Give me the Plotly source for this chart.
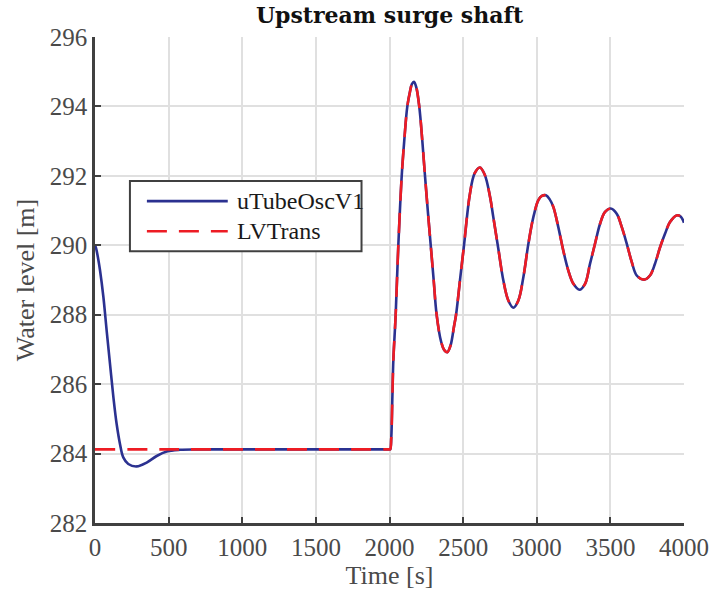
import plotly.graph_objects as go

# Initial drawdown of the uTubeOscV1 model (0-2000 s)
t_drawdown = [0, 7, 20, 34, 57, 79, 102, 125, 147, 170, 192, 226, 283, 351, 419, 487, 577, 700, 1000, 1500, 2000, 2005]
h_drawdown = [290.0, 289.92, 289.65, 289.28, 288.51, 287.55, 286.58, 285.62, 284.85, 284.27, 283.89,
              283.70, 283.63, 283.74, 283.93, 284.06, 284.11, 284.12, 284.12, 284.12, 284.12, 284.12]

# Steady level of the LVTrans model before the load change
t_steady = [0, 500, 1000, 1500, 2000, 2005]
h_steady = [284.12, 284.12, 284.12, 284.12, 284.12, 284.12]

# Surge oscillation after t = 2000 s (both models coincide)
t_surge = [2012, 2019, 2026, 2042, 2060, 2083, 2100, 2121, 2139, 2152, 2166, 2182, 2202, 2223,
           2241, 2260, 2280, 2300, 2320, 2350, 2372, 2393, 2415, 2438, 2452, 2481, 2506, 2545,
           2578, 2614, 2648, 2683, 2705, 2739, 2773, 2807, 2841, 2875, 2909, 2943, 2977, 3011,
           3035, 3062, 3087, 3113, 3146, 3180, 3214, 3249, 3290, 3328, 3362, 3396, 3430, 3464,
           3502, 3543, 3577, 3611, 3645, 3679, 3728, 3769, 3803, 3838, 3871, 3905, 3950, 3977, 4000]
h_surge = [284.45, 285.55, 286.68, 288.0, 290.0, 292.0, 293.0, 294.0, 294.42, 294.64, 294.71,
           294.55, 294.0, 293.0, 292.0, 291.0, 290.0, 289.0, 288.0, 287.23, 286.98, 286.92,
           287.12, 287.66, 288.0, 289.08, 290.0, 291.45, 292.07, 292.24, 292.02, 291.39, 290.81,
           289.9, 288.99, 288.41, 288.2, 288.41, 289.08, 290.04, 290.81, 291.3, 291.42, 291.44,
           291.33, 291.1, 290.53, 289.85, 289.28, 288.89, 288.72, 288.89, 289.47, 290.05, 290.62,
           290.96, 291.06, 290.91, 290.53, 290.05, 289.52, 289.13, 289.01, 289.13, 289.47, 289.95,
           290.33, 290.67, 290.86, 290.83, 290.65]

x_ticks = [0, 500, 1000, 1500, 2000, 2500, 3000, 3500, 4000]
y_ticks = [282, 284, 286, 288, 290, 292, 294, 296]

series_names = ["uTubeOscV1", "LVTrans"]
series_colors = ["#2b3190", "#ed1c24"]
series_dash = ["solid", "20px,12px"]

serif = "Liberation Serif, DejaVu Serif, serif"
axis_grey = "#404040"
label_grey = "#4a4a4a"
grid_grey = "#e0e0e0"

fig = go.Figure()
fig.add_trace(go.Scatter(
    x=t_drawdown + t_surge, y=h_drawdown + h_surge,
    mode="lines", name=series_names[0], showlegend=False,
    line=dict(color=series_colors[0], width=2.6, dash=series_dash[0], shape="spline", smoothing=1.0),
))
fig.add_trace(go.Scatter(
    x=t_steady + t_surge, y=h_steady + h_surge,
    mode="lines", name=series_names[1], showlegend=False,
    line=dict(color=series_colors[1], width=2.6, dash=series_dash[1], shape="spline", smoothing=1.0),
))

# Boxed legend in the upper-left part of the axes, with long line samples
box_x0, box_x1, box_y0, box_y1 = 0.0593, 0.4525, 0.5593, 0.7035
row_y = [0.6623, 0.6003]
sample_x0, sample_x1, text_x = 0.0881, 0.2254, 0.2373
fig.add_shape(type="rect", xref="paper", yref="paper",
              x0=box_x0, x1=box_x1, y0=box_y0, y1=box_y1,
              line=dict(color=axis_grey, width=2), fillcolor="white", layer="above")
for name, color, dash, yy in zip(series_names, series_colors, series_dash, row_y):
    fig.add_shape(type="line", xref="paper", yref="paper",
                  x0=sample_x0, x1=sample_x1, y0=yy, y1=yy,
                  line=dict(color=color, width=2.6, dash=dash), layer="above")
    fig.add_annotation(xref="paper", yref="paper", x=text_x, y=yy, text=name,
                       showarrow=False, xanchor="left", yanchor="middle",
                       font=dict(family=serif, size=24, color="#1a1a1a"))

fig.update_layout(
    width=712, height=599,
    margin=dict(l=95, r=28, t=37, b=76),
    paper_bgcolor="white", plot_bgcolor="white",
    font=dict(family=serif, size=25, color=label_grey),
    title=dict(text="<b>Upstream surge shaft</b>", x=(95 + 684) / 2 / 712, xanchor="center",
               y=1 - 15 / 599, yanchor="middle",
               font=dict(family="DejaVu Serif, serif", size=22, color="#111111")),
    showlegend=False,
)
fig.update_xaxes(
    range=[0, 4000], tickvals=x_ticks, ticktext=[str(v) for v in x_ticks],
    showgrid=True, gridcolor=grid_grey, gridwidth=2,
    showline=True, linecolor=axis_grey, linewidth=2.5, mirror=False,
    ticks="inside", ticklen=6, tickwidth=2, tickcolor=axis_grey,
    zeroline=False, automargin=False,
    tickfont=dict(family=serif, size=25, color=label_grey),
    title=dict(text="Time [s]", font=dict(family=serif, size=26, color=label_grey), standoff=4),
)
fig.update_yaxes(
    range=[282, 296], tickvals=y_ticks, ticktext=[str(v) for v in y_ticks],
    showgrid=True, gridcolor=grid_grey, gridwidth=2,
    showline=True, linecolor=axis_grey, linewidth=2.5, mirror=False,
    ticks="inside", ticklen=6, tickwidth=2, tickcolor=axis_grey,
    zeroline=False, automargin=False,
    tickfont=dict(family=serif, size=25, color=label_grey),
    title=dict(text="Water level [m]", font=dict(family=serif, size=26, color=label_grey), standoff=8),
)

fig.write_html("out.html")
